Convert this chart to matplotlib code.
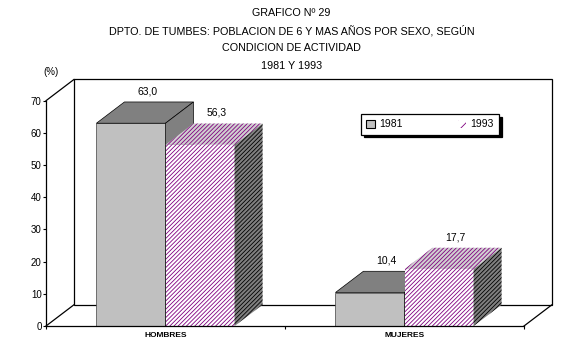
import matplotlib.pyplot as plt
from matplotlib.patches import Polygon, Patch

plt.rcParams['font.family'] = ['Liberation Sans', 'DejaVu Sans']
plt.rcParams['hatch.linewidth'] = 0.6

categories = ['HOMBRES', 'MUJERES']
years = ['1981', '1993']
values_1981 = [63.0, 10.4]
values_1993 = [56.3, 17.7]
title_lines = ['GRAFICO Nº 29',
               'DPTO. DE TUMBES: POBLACION DE 6 Y MAS AÑOS POR SEXO, SEGÚN',
               'CONDICION DE ACTIVIDAD',
               '1981 Y 1993']

# depth of the fake 3d box, in data units
DX = 0.117
DY = 6.6
BW = 0.289
PURPLE = '#800080'
HATCH = '////////'

fig = plt.figure(figsize=(5.81, 3.49), dpi=100)
ax = fig.add_axes([0.0792, 0.0659, 0.8227, 0.6456])
ax.set_xlim(0, 2)
ax.set_ylim(0, 70)

# walls
ax.add_patch(Polygon([(DX, DY), (2 + DX, DY), (2 + DX, 70 + DY), (DX, 70 + DY)],
                     closed=True, fc='white', ec='black', lw=0.9, clip_on=False, zorder=1))
ax.plot([0, DX], [70, 70 + DY], color='black', lw=0.9, clip_on=False, zorder=1)
ax.plot([0, DX], [0, DY], color='black', lw=0.9, clip_on=False, zorder=1)
ax.plot([2, 2 + DX], [0, DY], color='black', lw=0.9, clip_on=False, zorder=1)


def bar3d(x0, h, front, top, side, hatch_front=None, hatch_side=None, hc=None, z=2):
    if hatch_front:
        ax.bar(x0, h, width=BW, align='edge', color=front, edgecolor=hc, hatch=hatch_front,
               lw=0, zorder=z)
        ax.add_patch(Polygon([(x0, h), (x0 + BW, h), (x0 + BW + DX, h + DY), (x0 + DX, h + DY)],
                             fc=top, ec=hc, hatch=hatch_front, lw=0, clip_on=False, zorder=z))
        ax.add_patch(Polygon([(x0 + BW, 0), (x0 + BW + DX, DY), (x0 + BW + DX, h + DY), (x0 + BW, h)],
                             fc=side, ec='black', hatch=hatch_side, lw=0, clip_on=False, zorder=z))
    else:
        ax.bar(x0, h, width=BW, align='edge', color=front, edgecolor='#404040', lw=0.5, zorder=z)
        ax.add_patch(Polygon([(x0, h), (x0 + BW, h), (x0 + BW + DX, h + DY), (x0 + DX, h + DY)],
                             fc=top, ec='black', lw=0.5, clip_on=False, zorder=z))
        ax.add_patch(Polygon([(x0 + BW, 0), (x0 + BW + DX, DY), (x0 + BW + DX, h + DY), (x0 + BW, h)],
                             fc=side, ec='black', lw=0.5, clip_on=False, zorder=z))


centers = [0.5, 1.5]
z = 2
for c, v1, v2 in zip(centers, values_1981, values_1993):
    bar3d(c - BW, v1, '#c0c0c0', '#808080', '#808080', z=z)
    bar3d(c, v2, 'white', '#d0d0d0', '#808080', hatch_front=HATCH,
          hatch_side=HATCH, hc=PURPLE, z=z + 1)
    z += 2
    for x0, v in ((c - BW, v1), (c, v2)):
        ax.text(x0 + BW / 2 + DX * 0.6, v + DY + 3.3, f'{v:.1f}'.replace('.', ','),
                ha='center', va='center', fontsize=7.5, zorder=10)

# axes styling
for s in ('top', 'right'):
    ax.spines[s].set_visible(False)
ax.spines['left'].set_linewidth(0.9)
ax.spines['bottom'].set_linewidth(0.9)
ax.spines['left'].set_zorder(9)
ax.spines['bottom'].set_zorder(9)
ax.set_yticks(range(0, 71, 10))
ax.tick_params(axis='y', labelsize=7, length=2.2, width=0.8, pad=1)
ax.set_xticks([0, 1, 2])
ax.set_xticklabels([])
ax.set_xticks(centers, minor=True)
ax.set_xticklabels(categories, minor=True, fontsize=6, fontweight='bold')
ax.tick_params(axis='x', which='major', length=2.5, width=0.8)
ax.tick_params(axis='x', which='minor', length=0, pad=4.5)
ax.patch.set_visible(False)

ax.text(0.02, 78.9, '(%)', ha='center', va='center', fontsize=7)

handles = [Patch(facecolor='#c0c0c0', edgecolor='black', lw=0.8),
           Patch(facecolor='white', edgecolor=PURPLE, hatch='///', lw=0)]
leg = ax.legend(handles, years, loc='center', bbox_to_anchor=(0.659, 0.839, 0.289, 0.111),
                mode='expand', ncol=2, fontsize=7.5, frameon=True, fancybox=False,
                shadow={'color': 'black', 'alpha': 1}, handlelength=0.8, handleheight=0.8,
                handletextpad=0.4, borderaxespad=0, borderpad=0.5)
leg.get_frame().set_edgecolor('black')
leg.get_frame().set_linewidth(0.9)
leg.set_zorder(12)

ys = [0.9628, 0.9112, 0.8625, 0.8109]
for t, y in zip(title_lines, ys):
    fig.text(0.5017, y, t, ha='center', va='center', fontsize=7.75)

fig.savefig('out.png', dpi=100)
